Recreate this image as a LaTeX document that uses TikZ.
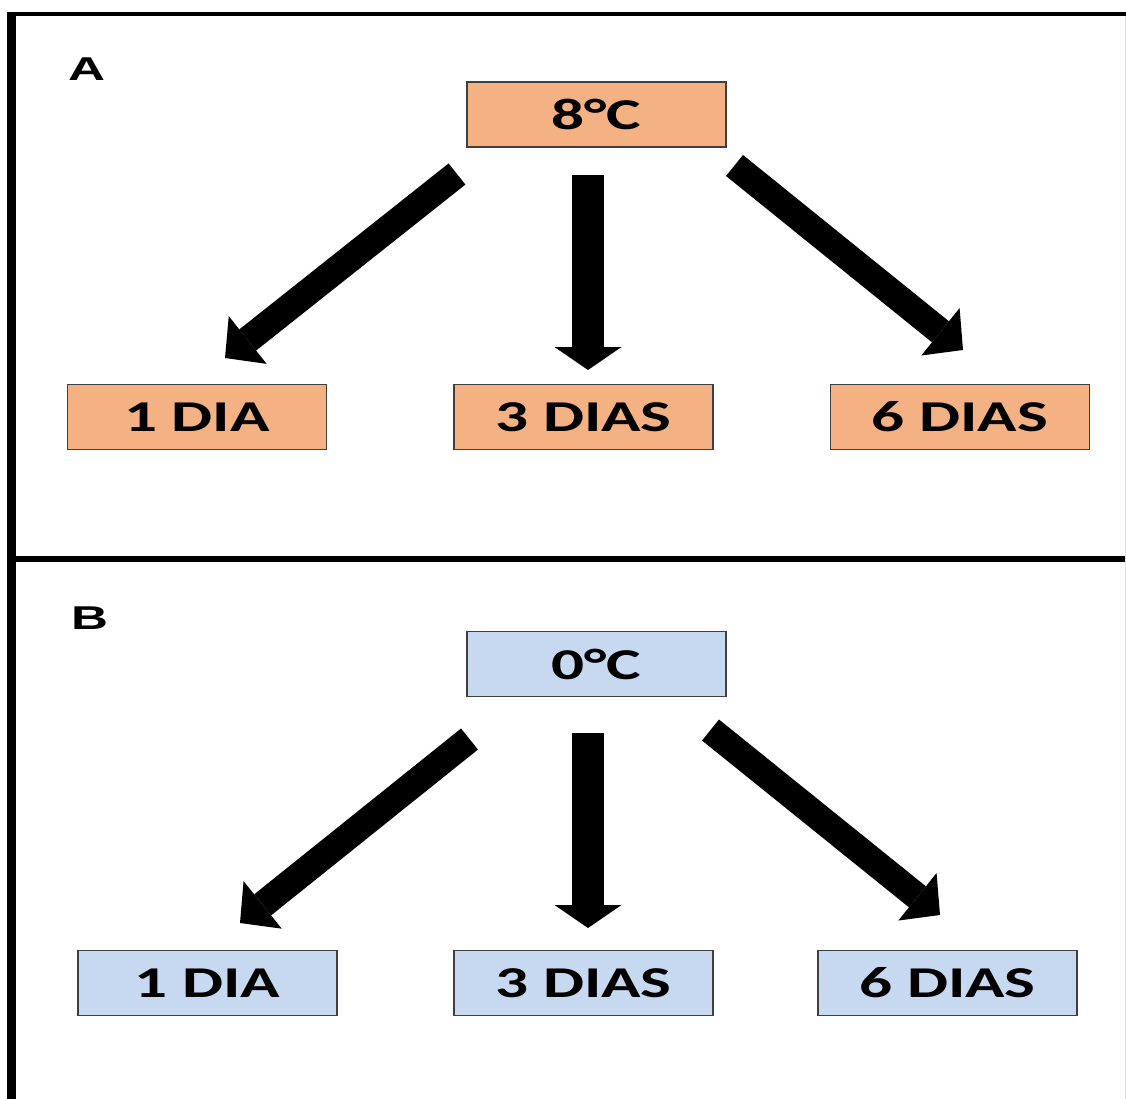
\documentclass[tikz,border=0pt]{standalone}
\usepackage{fontspec}
\usetikzlibrary{arrows.meta}
\newfontfamily\boxfont{Carlito}[FakeStretch=1.48]
\newfontfamily\lblfont{Liberation Sans}[FakeStretch=1.55]
\definecolor{boxorange}{HTML}{F4B183}
\definecolor{boxblue}{HTML}{C6D9F1}
\definecolor{boxline}{HTML}{3F3F3F}
\tikzset{
  tbox/.style={draw=boxline, line width=1.5pt, minimum width=259pt, minimum height=65pt,
    inner sep=0pt, font=\boxfont\bfseries\fontsize{44}{52}\selectfont},
  obox/.style={tbox, fill=boxorange},
  bbox/.style={tbox, fill=boxblue},
  panellabel/.style={inner sep=0pt, font=\lblfont\bfseries\fontsize{33}{40}\selectfont},
  diagarrow/.style={line width=27pt, -{Triangle[length=29pt, width=61pt, line width=0pt]}},
  vertarrow/.style={line width=32pt, -{Triangle[length=23pt, width=67pt, line width=0pt]}},
  frameline/.style={black}
}
\begin{document}
\begin{tikzpicture}[x=1pt, y=-1pt]
\useasboundingbox (0,0) rectangle (1126,1099);
\fill[white] (0,0) rectangle (1126,1099);
% frame
\draw[frameline, line width=9pt] (11.5,12) -- (11.5,1110);
\draw[frameline, line width=4pt] (7,14) -- (1130,14);
\draw[frameline, line width=6pt] (16,559) -- (1130,559);
\draw[black!12, line width=1pt] (1125.5,16) -- (1125.5,1099);
% labels
\node[panellabel, anchor=south west] (labA) at (68,80.5) {A};
\node[panellabel, anchor=south west] (labB) at (71,629.5) {B};
% panel A
\node[obox] (a8) at (596.5,114.5) {8°C};
\node[obox] (a1) at (197,417) {1 DIA};
\node[obox] (a3) at (583.5,417) {3 DIAS};
\node[obox] (a6) at (960,417) {6 DIAS};
\coordinate (aT1) at (457,174);   \coordinate (aH1) at (225,358);
\coordinate (aT3) at (588,175);   \coordinate (aH3) at (588,370);
\coordinate (aT6) at (734.5,165.5); \coordinate (aH6) at (963,350);
\draw[diagarrow] (aT1) -- (aH1);
\draw[vertarrow] (aT3) -- (aH3);
\draw[diagarrow] (aT6) -- (aH6);
% panel B
\node[bbox] (b0) at (596.5,664) {0°C};
\node[bbox] (b1) at (207.5,983) {1 DIA};
\node[bbox] (b3) at (583.5,983) {3 DIAS};
\node[bbox] (b6) at (947.5,983) {6 DIAS};
\coordinate (bT1) at (469.5,739); \coordinate (bH1) at (240,923);
\coordinate (bT3) at (588,733);   \coordinate (bH3) at (588,928);
\coordinate (bT6) at (710.5,730); \coordinate (bH6) at (940,915);
\draw[diagarrow] (bT1) -- (bH1);
\draw[vertarrow] (bT3) -- (bH3);
\draw[diagarrow] (bT6) -- (bH6);
\end{tikzpicture}
\end{document}
